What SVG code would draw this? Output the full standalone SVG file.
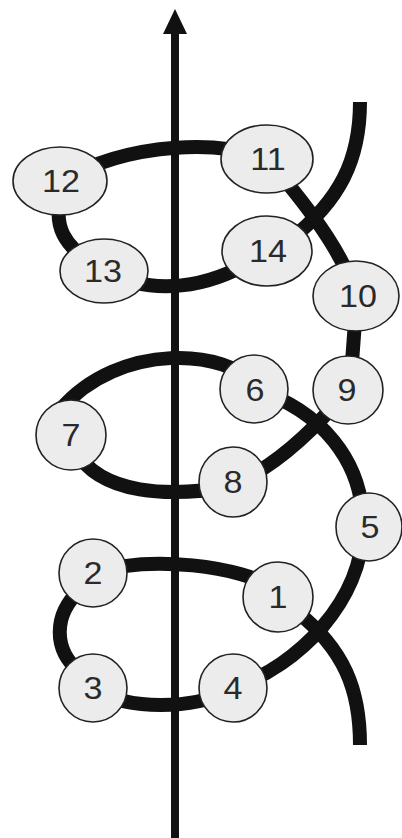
<svg xmlns="http://www.w3.org/2000/svg" width="402" height="838" viewBox="0 0 402 838">
<style>
.strand{fill:none;stroke:#111;stroke-width:14;stroke-linecap:butt}
.axis{fill:none;stroke:#111;stroke-width:8}
.node ellipse{fill:#ececec;stroke:#222;stroke-width:1.6}
.node text{font-family:"Liberation Sans",Arial,sans-serif;font-size:31px;fill:#2a2a2a;text-anchor:middle}
</style>
<rect width="402" height="838" fill="#fff"/>
<g id="axis">
<line class="axis" x1="175" y1="838" x2="175" y2="30"/>
<polygon points="175,9 163,34 187,34" fill="#111"/>
</g>
<g id="connectors">
<path class="strand" d="M360 745 C360 690 345 650 295 610"/>
<path class="strand" d="M278 590 C240 565 150 555 93 573"/>
<path class="strand" d="M80 590 C53 615 53 650 80 672"/>
<path class="strand" d="M93 690 C130 710 190 710 233 690"/>
<path class="strand" d="M233 688 C300 665 362 600 363 528 C364 460 320 410 254 389"/>
<path class="strand" d="M233 485 Q290 460 348 389"/>
<path class="strand" d="M350 389 L357 295"/>
<path class="strand" d="M356 295 C345 260 320 220 267 159"/>
<path class="strand" d="M267 160 C230 140 130 140 60 182"/>
<path class="strand" d="M60 200 C55 225 62 245 95 265"/>
<path class="strand" d="M104 271 C150 295 210 292 267 251"/>
<path class="strand" d="M290 240 C340 200 360 160 360 102"/>
<path class="strand" d="M254 385 C230 350 120 340 60 410"/>
<path class="strand" d="M75 450 C100 495 170 498 233 486"/>
</g>
<g id="n1" class="node"><ellipse cx="278" cy="597" rx="35" ry="35"/><text transform="translate(278 608) scale(1.1 1)">1</text></g>
<g id="n2" class="node"><ellipse cx="93" cy="573" rx="34" ry="34"/><text transform="translate(93 584) scale(1.1 1)">2</text></g>
<g id="n3" class="node"><ellipse cx="93" cy="688" rx="34" ry="34"/><text transform="translate(93 699) scale(1.1 1)">3</text></g>
<g id="n4" class="node"><ellipse cx="233" cy="688" rx="34" ry="34"/><text transform="translate(233 699) scale(1.1 1)">4</text></g>
<g id="n5" class="node"><ellipse cx="369" cy="527" rx="33" ry="34"/><text transform="translate(370 538) scale(1.1 1)">5</text></g>
<g id="n6" class="node"><ellipse cx="254" cy="389" rx="34" ry="34"/><text transform="translate(255 401) scale(1.1 1)">6</text></g>
<g id="n7" class="node"><ellipse cx="71" cy="435" rx="35" ry="35"/><text transform="translate(71 446) scale(1.1 1)">7</text></g>
<g id="n8" class="node"><ellipse cx="233" cy="482" rx="34" ry="35"/><text transform="translate(233 493) scale(1.1 1)">8</text></g>
<g id="n9" class="node"><ellipse cx="348" cy="390" rx="35" ry="34"/><text transform="translate(347 401) scale(1.1 1)">9</text></g>
<g id="n10" class="node"><ellipse cx="356" cy="296" rx="43" ry="35"/><text transform="translate(358 307) scale(1.1 1)">10</text></g>
<g id="n11" class="node"><ellipse cx="267" cy="159" rx="46" ry="34"/><text transform="translate(268 170) scale(1.1 1)">11</text></g>
<g id="n12" class="node"><ellipse cx="60" cy="181" rx="47" ry="34"/><text transform="translate(61 192) scale(1.1 1)">12</text></g>
<g id="n13" class="node"><ellipse cx="104" cy="271" rx="44" ry="32"/><text transform="translate(103 282) scale(1.1 1)">13</text></g>
<g id="n14" class="node"><ellipse cx="267" cy="251" rx="45" ry="35"/><text transform="translate(268 262) scale(1.1 1)">14</text></g>
</svg>
